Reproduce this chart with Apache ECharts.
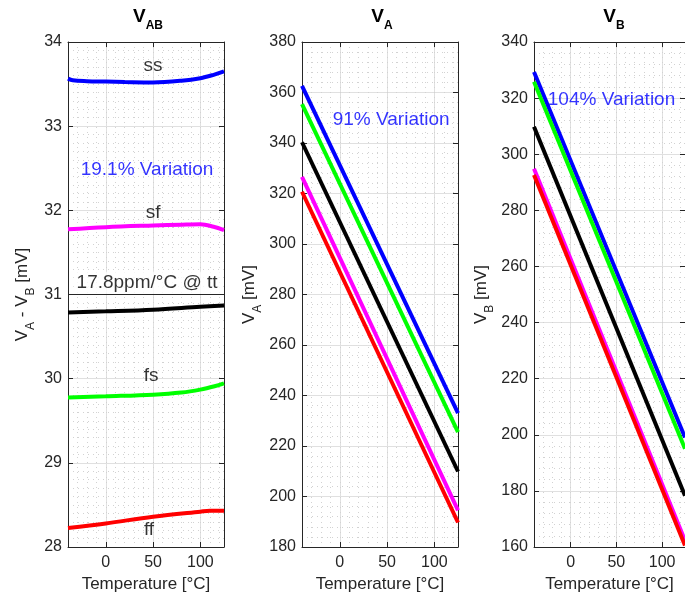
<!DOCTYPE html>
<html><head><meta charset="utf-8">
<script src="https://cdn.jsdelivr.net/npm/echarts@6/dist/echarts.min.js"></script>
<style>html,body{margin:0;padding:0;background:#fff}#c{width:685px;height:600px}</style>
</head><body><div id="c"></div>
<script>
// ---------- data ----------
const xTickValues = [0, 50, 100];
// Panel 1: V_AB = V_A - V_B [mV]
const vabSsT = [-40, -35, -20, 0, 20, 50, 80, 100, 114, 125];
const vabSs  = [33.565, 33.545, 33.535, 33.53, 33.525, 33.52, 33.54, 33.57, 33.61, 33.65];
const vabSfT = [-40, 0, 50, 80, 100, 114, 125];
const vabSf  = [31.774, 31.80, 31.82, 31.83, 31.835, 31.805, 31.766];
const vabTtT = [-40, 0, 50, 100, 125];
const vabTt  = [30.787, 30.80, 30.82, 30.855, 30.87];
const vabFsT = [-40, 0, 50, 80, 100, 115, 125];
const vabFs  = [29.775, 29.79, 29.81, 29.835, 29.87, 29.91, 29.945];
const vabFfT = [-40, 0, 50, 100, 110, 125];
const vabFf  = [28.225, 28.28, 28.36, 28.42, 28.43, 28.43];
// Panel 2: V_A [mV]
const vaT  = [-40, 125];
const vaSs = [362.6, 233.0];
const vaFs = [355.4, 225.5];
const vaTt = [340.3, 209.9];
const vaSf = [326.6, 194.5];
const vaFf = [320.7, 189.7];
// Panel 3: V_B [mV]
const vbT  = [-40, 125];
const vbSs = [329.3, 199.0];
const vbFs = [325.8, 195.0];
const vbTt = [309.8, 178.3];
const vbSf = [294.8, 162.3];
const vbFf = [292.6, 160.5];
// annotations [T, value, text]
const ann1 = [[50, 33.715, 'ss'], [43.6, 32.48, '19.1% Variation'], [50, 31.97, 'sf'],
              [43.6, 31.14, '17.8ppm/°C @ tt'], [48, 30.03, 'fs'], [45.7, 28.20, 'ff']];
const ann2 = [[54.3, 349.3, '91% Variation']];
const ann3 = [[44.7, 319.3, '104% Variation']];
// axis ranges [min, max, interval, minor splits]
const yRanges = [[28, 34, 1, 10], [180, 380, 20, 5], [160, 340, 20, 5]];

// ---------- chart ----------
const FONT = "'Liberation Sans', Arial, Helvetica, sans-serif";
const AX = '#262626';
const COL = {ss: '#0000ff', sf: '#ff00ff', tt: '#000000', fs: '#00ff00', ff: '#ff0000'};
const zip = (t, v) => t.map((x, i) => [x, v[i]]);

const grids = [
  {left: 68, top: 42, width: 156, height: 505},
  {left: 302, top: 42, width: 156, height: 505},
  {left: 534, top: 42, width: 156, height: 505}
];
const subRich = {
  v: {fontSize: 17, lineHeight: 20, padding: [0, 0, 6, 0], color: AX, fontFamily: FONT},
  s: {fontSize: 12, lineHeight: 14, padding: [12, 0, 0, 0], color: AX, fontFamily: FONT}
};
const yNames = ['{v|V}{s|A}{v| - V}{s|B}{v| [mV]}', '{v|V}{s|A}{v| [mV]}', '{v|V}{s|B}{v| [mV]}'];
const yGaps = [33, 40, 40];
const titles = [['V', 'AB'], ['V', 'A'], ['V', 'B']];
const MINOR = {color: '#d2d2d2', width: 1, type: [1, 4]};

const xAxis = [], yAxis = [];
for (let i = 0; i < 3; i++) {
  xAxis.push({
    gridIndex: i, type: 'value', min: -40, max: 125, interval: 10, position: 'bottom',
    axisLine: {show: true, onZero: false, lineStyle: {color: AX, width: 1}},
    axisTick: {show: true, inside: true, length: 5, customValues: xTickValues, lineStyle: {color: AX}},
    axisLabel: {show: true, customValues: xTickValues, margin: 8, fontSize: 16, color: AX, fontFamily: FONT},
    splitLine: {show: true, lineStyle: {color: '#e0e0e0', width: 1}},
    name: 'Temperature [°C]', nameLocation: 'middle', nameGap: 29,
    nameTextStyle: {fontSize: 17, color: AX, fontFamily: FONT}
  });
  xAxis.push({
    gridIndex: i, type: 'value', min: -40, max: 125, interval: 10, position: 'top',
    axisLine: {show: true, onZero: false, lineStyle: {color: AX, width: 1}},
    axisTick: {show: true, inside: true, length: 5, customValues: xTickValues, lineStyle: {color: AX}},
    axisLabel: {show: false}, splitLine: {show: false}
  });
  xAxis.push({
    gridIndex: i, type: 'value', min: -40, max: 125, interval: 10, position: 'bottom',
    axisLine: {show: false}, axisTick: {show: false}, axisLabel: {show: false},
    splitLine: {show: true, lineStyle: MINOR}
  });
  const r = yRanges[i];
  yAxis.push({
    gridIndex: i, type: 'value', min: r[0], max: r[1], interval: r[2], position: 'left',
    axisLine: {show: true, onZero: false, lineStyle: {color: AX, width: 1}},
    axisTick: {show: true, inside: true, length: 5, lineStyle: {color: AX}},
    axisLabel: {show: true, margin: 6, fontSize: 16, color: AX, fontFamily: FONT},
    splitLine: {show: true, lineStyle: {color: '#e0e0e0', width: 1}},
    minorTick: {show: false, splitNumber: r[3]},
    minorSplitLine: {show: true, lineStyle: MINOR},
    name: yNames[i], nameLocation: 'middle', nameGap: yGaps[i], nameRotate: 90,
    nameTextStyle: {rich: subRich}
  });
  yAxis.push({
    gridIndex: i, type: 'value', min: r[0], max: r[1], interval: r[2], position: 'right',
    axisLine: {show: true, onZero: false, lineStyle: {color: AX, width: 1}},
    axisTick: {show: true, inside: true, length: 5, lineStyle: {color: AX}},
    axisLabel: {show: false}, splitLine: {show: false}
  });
}

function line(panel, key, t, v, extra) {
  return Object.assign({
    type: 'line', xAxisIndex: panel * 3, yAxisIndex: panel * 2,
    data: zip(t, v), showSymbol: false, symbol: 'none', smooth: 0.35,
    lineStyle: {color: COL[key], width: 4}, itemStyle: {color: COL[key]},
    z: 3, silent: true, animation: false, clip: true
  }, extra || {});
}
function texts(panel, arr) {
  return arr.map(a => {
    const isVar = a[2].indexOf('Variation') >= 0;
    const isBox = a[2].indexOf('ppm') >= 0;
    return {
      type: 'scatter', xAxisIndex: panel * 3, yAxisIndex: panel * 2,
      data: [[a[0], a[1]]], symbolSize: 0, itemStyle: {color: 'rgba(0,0,0,0)'}, z: 5, silent: true, animation: false,
      label: {
        show: true, position: 'inside', formatter: a[2], fontSize: 19, fontFamily: FONT, lineHeight: 21,
        color: isVar ? '#0000ff' : '#000000', textBorderWidth: 0, textBorderColor: 'transparent',
        backgroundColor: isBox ? '#ffffff' : 'transparent', padding: isBox ? [1, 3, 0, 3] : 0
      }
    };
  });
}

const series = [
  line(0, 'ss', vabSsT, vabSs), line(0, 'sf', vabSfT, vabSf),
  line(0, 'tt', vabTtT, vabTt, {z: 6, markLine: {symbol: 'none', silent: true, animation: false, label: {show: false},
    lineStyle: {color: AX, width: 1, type: 'solid'}, data: [{yAxis: 31}]}}),
  line(0, 'fs', vabFsT, vabFs), line(0, 'ff', vabFfT, vabFf),
  line(1, 'ff', vaT, vaFf), line(1, 'sf', vaT, vaSf), line(1, 'tt', vaT, vaTt), line(1, 'fs', vaT, vaFs), line(1, 'ss', vaT, vaSs),
  line(2, 'sf', vbT, vbSf), line(2, 'ff', vbT, vbFf), line(2, 'tt', vbT, vbTt), line(2, 'ss', vbT, vbSs), line(2, 'fs', vbT, vbFs)
].concat(texts(0, ann1), texts(1, ann2), texts(2, ann3));

const titleRich = {
  v: {fontSize: 19, fontWeight: 'bold', lineHeight: 20, padding: [0, 0, 6, 0], fill: '#000', fontFamily: FONT},
  s: {fontSize: 12, fontWeight: 'bold', lineHeight: 14, padding: [12, 0, 0, 0], fill: '#000', fontFamily: FONT}
};
const graphic = grids.map((g, i) => ({
  type: 'text', x: g.left + g.width / 2 + 2, y: 10,
  style: {text: '{v|' + titles[i][0] + '}{s|' + titles[i][1] + '}', rich: titleRich, align: 'center', verticalAlign: 'top'}
}));

const chart = echarts.init(document.getElementById('c'), null, {renderer: 'canvas'});
chart.setOption({
  backgroundColor: '#ffffff', animation: false,
  grid: grids, xAxis: xAxis, yAxis: yAxis, series: series, graphic: graphic
});
</script></body></html>
